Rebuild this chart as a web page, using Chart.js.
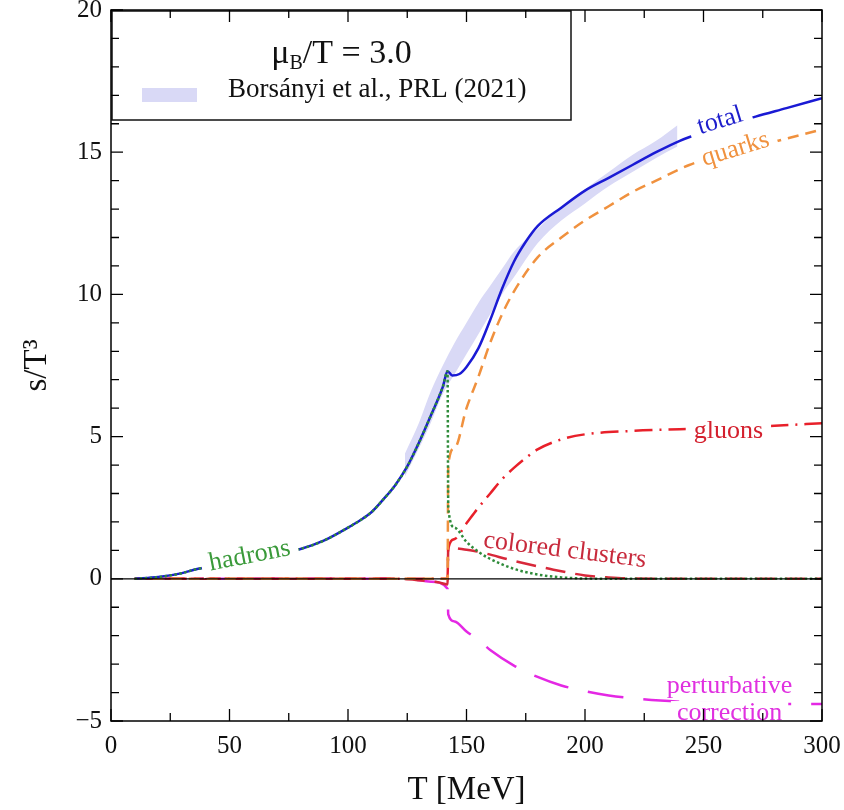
<!DOCTYPE html>
<html><head><meta charset="utf-8">
<script src="https://cdn.jsdelivr.net/npm/chart.js@4/dist/chart.umd.min.js"></script>
<style>html,body{margin:0;padding:0;background:#fff}#wrap{width:844px;height:810px}</style>
</head><body><div id="wrap"><canvas id="c" width="844" height="810"></canvas></div>
<script>
// ---- tick labels ----
const xTicks = [0, 50, 100, 150, 200, 250, 300];
const yTicks = [-5, 0, 5, 10, 15, 20];

// ---- Borsanyi et al. band ----
const bandT  = [124, 130, 135, 140, 145, 150, 155, 160, 165, 170, 180, 190, 200, 210, 220, 230, 239];
const bandLo = [3.6, 4.6, 5.5, 6.5, 7.2, 7.9, 8.6, 9.3, 10.0, 10.6, 11.8, 12.6, 13.2, 13.8, 14.3, 14.8, 15.2];
const bandHi = [4.4, 5.5, 6.6, 7.5, 8.3, 9.0, 9.7, 10.3, 10.9, 11.5, 12.3, 13.1, 13.7, 14.3, 14.9, 15.4, 15.95];

// ---- total ----
const totalT = [10, 20, 30, 35, 40, 50, 60, 70, 80, 90, 100, 105, 110, 115, 120, 125, 130, 135, 140, 142, 144, 147, 150, 155, 160, 165, 170, 175, 180, 190, 200, 210, 220, 230, 240, 250, 260, 272, 285, 300];
const totalS = [0, 0.06, 0.2, 0.32, 0.4, 0.53, 0.7, 0.87, 1.05, 1.35, 1.8, 2.05, 2.35, 2.8, 3.3, 3.95, 4.8, 5.75, 6.75, 7.3, 7.15, 7.2, 7.45, 8.1, 9.1, 10.2, 11.15, 11.85, 12.4, 13.05, 13.65, 14.1, 14.55, 15.0, 15.4, 15.7, 15.95, 16.25, 16.55, 16.9];

// ---- hadrons ----
const hadronT = [10, 20, 30, 35, 40, 50, 60, 70, 80, 90, 100, 105, 110, 115, 120, 125, 130, 135, 140, 142, 142.3, 145, 150, 155, 160, 170, 180, 190, 200, 220, 300];
const hadronS = [0, 0.06, 0.2, 0.32, 0.4, 0.53, 0.7, 0.87, 1.05, 1.35, 1.8, 2.05, 2.35, 2.8, 3.3, 3.95, 4.8, 5.75, 6.75, 7.3, 2.5, 1.8, 1.3, 0.95, 0.7, 0.35, 0.15, 0.05, 0.01, 0, 0];

// ---- quarks ----
const quarkT = [10, 142, 142.3, 145, 150, 155, 160, 165, 170, 180, 190, 200, 210, 220, 230, 244, 260, 279, 300];
const quarkS = [0, 0, 4.0, 4.6, 6.0, 7.1, 8.3, 9.3, 10.1, 11.3, 12.0, 12.6, 13.1, 13.6, 14.0, 14.55, 14.95, 15.35, 15.8];

// ---- gluons ----
const gluonT = [10, 142, 142.3, 145, 150, 155, 160, 165, 170, 175, 180, 190, 200, 220, 240, 260, 280, 300];
const gluonS = [0, 0, 1.05, 1.4, 1.95, 2.5, 3.0, 3.5, 3.9, 4.25, 4.55, 4.9, 5.08, 5.2, 5.26, 5.32, 5.38, 5.47];

// ---- colored clusters ----
const clusterT = [10, 120, 130, 138, 142, 142.3, 150, 155, 170, 185, 200, 210, 220, 240, 300];
const clusterS = [0, 0, -0.05, -0.12, -0.2, 1.1, 1.02, 0.95, 0.63, 0.35, 0.12, 0.05, 0.01, 0, 0];

// ---- perturbative correction ----
const pertT = [10, 125, 135, 142, 142.3, 145, 150, 155, 160, 170, 180, 190, 200, 210, 220, 240, 260, 280, 300];
const pertS = [0, 0, -0.1, -0.35, -1.25, -1.5, -1.85, -2.15, -2.5, -3.05, -3.45, -3.75, -3.95, -4.1, -4.2, -4.32, -4.38, -4.4, -4.4];

// ---- curve labels (anchored in data units) ----
const curveLabels = [
  {text: 'total', T: 257, s: 16.1, ang: -17, color: '#1e1ecc', bg: 9},
  {text: 'quarks', T: 263.5, s: 15.1, ang: -17, color: '#f0913e', bg: 8},
  {text: 'gluons', T: 260.5, s: 5.2, ang: 0, color: '#d4202e', bg: 8},
  {text: 'colored clusters', T: 191.5, s: 1.0, ang: 7, color: '#c82a3c', bg: 0},
  {text: 'hadrons', T: 58.5, s: 0.8, ang: -11, color: '#3a9a3a', bg: 8},
  {text: 'perturbative', T: 261, s: -3.76, ang: 0, color: '#e030e0', bg: 6},
  {text: 'correction', T: 261, s: -4.72, ang: 0, color: '#e030e0', bg: 6}
];

const BAND_COLOR = '#d9d9f6';
const pts = (T, S) => T.map((t, i) => ({x: t, y: S[i]}));
const SERIF = '"Liberation Serif", "DejaVu Serif", serif';

const line = (label, T, S, color, dash, order, w) => ({
  label, data: pts(T, S), borderColor: color, backgroundColor: color, borderWidth: w || 2.5,
  borderDash: dash, pointRadius: 0, showLine: true, fill: false, order,
  cubicInterpolationMode: 'monotone', borderCapStyle: 'butt'
});

const decor = {
  id: 'decor',
  afterDatasetsDraw(chart) {
    const {ctx, chartArea: a, scales: {x, y}} = chart;
    ctx.save();
    ctx.strokeStyle = '#000'; ctx.lineWidth = 1.2;
    ctx.beginPath(); ctx.moveTo(a.left, y.getPixelForValue(0)); ctx.lineTo(a.right, y.getPixelForValue(0)); ctx.stroke();
    for (const L of curveLabels) {
      const px = x.getPixelForValue(L.T), py = y.getPixelForValue(L.s);
      ctx.save(); ctx.translate(px, py); ctx.rotate(L.ang * Math.PI / 180);
      ctx.font = '26px ' + SERIF;
      const w = ctx.measureText(L.text).width;
      if (L.bg) { ctx.fillStyle = '#fff'; ctx.fillRect(-w / 2 - L.bg, -12, w + 2 * L.bg, 25); }
      ctx.fillStyle = L.color; ctx.textAlign = 'center'; ctx.textBaseline = 'middle';
      ctx.fillText(L.text, 0, 0);
      ctx.restore();
    }
    ctx.restore();
  },
  afterDraw(chart) {
    const {ctx, chartArea: a, scales: {x, y}} = chart;
    ctx.save();
    const bx = a.left + 1, by = a.top + 1, bw = 459, bh = 109;
    ctx.fillStyle = '#fff'; ctx.fillRect(bx, by, bw, bh);
    ctx.strokeStyle = '#111'; ctx.lineWidth = 1.5; ctx.strokeRect(bx, by, bw, bh);
    ctx.fillStyle = '#111'; ctx.textBaseline = 'alphabetic'; ctx.textAlign = 'left';
    const big = '34px ' + SERIF, small = '20px ' + SERIF;
    ctx.font = big; const w1 = ctx.measureText('\u03BC').width, w3 = ctx.measureText('/T = 3.0').width;
    ctx.font = small; const w2 = ctx.measureText('B').width;
    let tx = bx + bw / 2 - (w1 + w2 + w3) / 2; const base = 63;
    ctx.font = big; ctx.fillText('\u03BC', tx, base); tx += w1;
    ctx.font = small; ctx.fillText('B', tx, base + 6); tx += w2;
    ctx.font = big; ctx.fillText('/T = 3.0', tx, base);
    ctx.fillStyle = BAND_COLOR; ctx.fillRect(142, 88, 55, 14);
    ctx.fillStyle = '#111'; ctx.font = '27px ' + SERIF;
    ctx.fillText('Bors\u00e1nyi et al., PRL (2021)', 228, 97);
    ctx.strokeStyle = '#000'; ctx.lineWidth = 1.5;
    ctx.strokeRect(a.left, a.top, a.right - a.left, a.bottom - a.top);
    ctx.lineWidth = 1.3;
    ctx.beginPath();
    for (let v = 0; v <= 300; v += 25) {
      const px = x.getPixelForValue(v), len = v % 50 === 0 ? 12 : 8;
      ctx.moveTo(px, a.bottom); ctx.lineTo(px, a.bottom - len);
      ctx.moveTo(px, a.top); ctx.lineTo(px, a.top + len);
    }
    for (let v = -5; v <= 20; v += 1) {
      const py = y.getPixelForValue(v), len = v % 5 === 0 ? 12 : 8;
      ctx.moveTo(a.left, py); ctx.lineTo(a.left + len, py);
      ctx.moveTo(a.right, py); ctx.lineTo(a.right - len, py);
    }
    ctx.stroke();
    ctx.restore();
  }
};

new Chart(document.getElementById('c'), {
  type: 'scatter',
  data: {
    datasets: [
      {label: 'band lo', data: pts(bandT, bandLo), showLine: true, borderWidth: 0, pointRadius: 0, fill: false, order: 20, cubicInterpolationMode: 'monotone', borderColor: 'rgba(0,0,0,0)'},
      {label: 'Borsányi et al., PRL (2021)', data: pts(bandT, bandHi), showLine: true, borderWidth: 0, pointRadius: 0, fill: '-1', backgroundColor: BAND_COLOR, order: 19, cubicInterpolationMode: 'monotone', borderColor: 'rgba(0,0,0,0)'},
      line('perturbative correction', pertT, pertS, '#e428e4', [36, 20], 8),
      line('colored clusters', clusterT, clusterS, '#d8283a', [20, 10], 7),
      line('gluons', gluonT, gluonS, '#e8202a', [18, 7, 2, 7], 6),
      line('quarks', quarkT, quarkS, '#f0913e', [11, 7], 5),
      line('total', totalT, totalS, '#1a1ad4', [], 3),
      line('hadrons', hadronT, hadronS, '#2e8b3a', [2.5, 2.5], 1)
    ]
  },
  options: {
    responsive: false, animation: false, devicePixelRatio: 1,
    layout: {padding: {left: 0, right: 22, top: 10, bottom: 0}},
    plugins: {legend: {display: false}, tooltip: {enabled: false}},
    scales: {
      x: {
        type: 'linear', min: 0, max: 300,
        afterBuildTicks: s => { s.ticks = xTicks.map(v => ({value: v})); },
        afterFit: s => { s.height = 89; s.paddingLeft = 0; s.paddingRight = 0; },
        grid: {display: false, drawTicks: false}, border: {display: false},
        ticks: {font: {family: SERIF, size: 25}, color: '#111', padding: 10, maxRotation: 0},
        title: {display: true, text: 'T [MeV]', font: {family: SERIF, size: 33}, color: '#111', padding: {top: 0, bottom: 0}}
      },
      y: {
        type: 'linear', min: -5, max: 20,
        afterBuildTicks: s => { s.ticks = yTicks.map(v => ({value: v})); },
        afterFit: s => { s.width = 111; s.paddingTop = 0; s.paddingBottom = 0; },
        grid: {display: false, drawTicks: false}, border: {display: false},
        ticks: {font: {family: SERIF, size: 25}, color: '#111', padding: 9,
          callback: v => v < 0 ? '\u2212' + Math.abs(v) : String(v)},
        title: {display: true, text: 's/T\u00b3', font: {family: SERIF, size: 33}, color: '#111', padding: {top: 18, bottom: 0}}
      }
    }
  },
  plugins: [decor]
});
</script>
</body></html>
